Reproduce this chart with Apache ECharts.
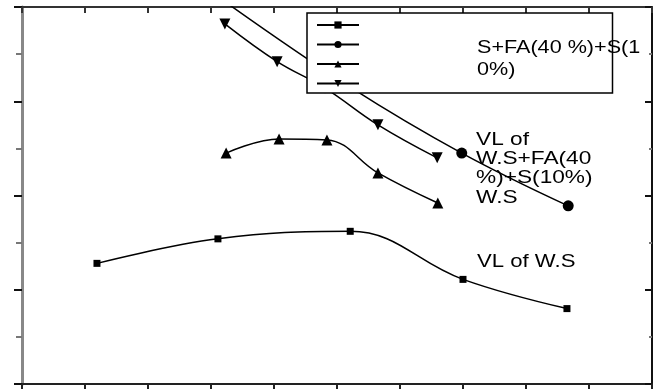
<!DOCTYPE html>
<html><head><meta charset="utf-8">
<script src="https://cdn.jsdelivr.net/npm/echarts@6/dist/echarts.min.js"></script>
<style>html,body{margin:0;padding:0;background:#fff}#c{width:658px;height:390px}</style>
</head><body><div id="c"></div>
<script>
// Data
const vlWsX = [1.19, 3.11, 5.21, 7.0, 8.65];
const vlWsY = [1.28, 1.54, 1.62, 1.11, 0.80];
const vlMixX = [3.13, 5.21, 6.98, 8.67];
const vlMixY = [4.10, 3.15, 2.45, 1.89];
const wsX = [3.24, 4.08, 4.84, 5.65, 6.60];
const wsY = [2.45, 2.60, 2.59, 2.24, 1.92];
const mixX = [3.22, 4.05, 4.81, 5.65, 6.59];
const mixY = [3.82, 3.42, 3.14, 2.75, 2.40];
const seriesNames = ['VL of W.S', 'VL of W.S+FA(40%)+S(10%)', 'W.S', 'S+FA(40%)+S(10%)'];
const annotTop = ['S+FA(40 %)+S(1', '0%)'];
const annotMid = ['VL of', 'W.S+FA(40', '%)+S(10%)', 'W.S'];
const annotBottom = ['VL of W.S'];
const xMin = 0, xMax = 10, xInterval = 1;
const yMin = 0, yMax = 4, yInterval = 1;

const pairs = (xs, ys) => xs.map((x, i) => [x, ys[i]]);
const chart = echarts.init(document.getElementById('c'), null, {renderer: 'canvas'});
const FONT = '"Liberation Sans", Arial, sans-serif';
const lineBase = (name, data, symbol, size, rot) => ({
  type: 'line', name, data, symbol, symbolSize: size, symbolRotate: rot || 0,
  smooth: 0.4, clip: true, xAxisIndex: 0, yAxisIndex: 0,
  lineStyle: {color: '#000', width: 1.5}, itemStyle: {color: '#000'}
});
const xAx = (pos, inside, len, color) => ({
  type: 'value', position: pos, min: xMin, max: xMax, interval: xInterval,
  axisLine: {show: true, onZero: false, lineStyle: {color, width: 2}},
  axisTick: {show: true, inside, length: len, lineStyle: {color, width: 2}},
  axisLabel: {show: false}, splitLine: {show: false}
});
const option = {
  animation: false,
  backgroundColor: '#fff',
  grid: {left: 22, right: 6, top: 7, bottom: 6, containLabel: false},
  xAxis: [xAx('bottom', false, 5, '#222'), xAx('top', true, 6, '#333')],
  yAxis: [
    {type: 'value', position: 'left', min: yMin, max: yMax, interval: yInterval,
     axisLine: {show: true, onZero: false, lineStyle: {color: '#888', width: 3}},
     axisTick: {show: true, inside: false, length: 8, lineStyle: {color: '#111', width: 2}},
     minorTick: {show: true, splitNumber: 2, length: 6, lineStyle: {color: '#777', width: 2}},
     axisLabel: {show: false}, splitLine: {show: false}, minorSplitLine: {show: false}},
    {type: 'value', position: 'right', min: yMin, max: yMax, interval: yInterval,
     axisLine: {show: true, onZero: false, lineStyle: {color: '#111', width: 2}},
     axisTick: {show: true, inside: true, length: 7, lineStyle: {color: '#111', width: 2}},
     minorTick: {show: true, splitNumber: 2, length: 3, lineStyle: {color: '#777', width: 2}},
     axisLabel: {show: false}, splitLine: {show: false}, minorSplitLine: {show: false}}
  ],
  legend: {
    show: true, orient: 'vertical', left: 307, top: 13,
    padding: [7.5, 246, 5, 9], itemWidth: 42, itemHeight: 9, itemGap: 10.5,
    borderColor: '#000', borderWidth: 1.5, backgroundColor: '#fff',
    formatter: () => ' ', textStyle: {fontSize: 9, lineHeight: 9},
    data: seriesNames
  },
  series: [
    lineBase(seriesNames[0], pairs(vlWsX, vlWsY), 'rect', 7),
    lineBase(seriesNames[1], pairs(vlMixX, vlMixY), 'circle', 11),
    lineBase(seriesNames[2], pairs(wsX, wsY), 'triangle', 11),
    lineBase(seriesNames[3], pairs(mixX, mixY), 'triangle', 11, 180)
  ],
  graphic: [
    {type: 'text', x: 477, y: 37, scaleX: 1.2, z: 100,
     style: {text: annotTop.join('\n'), font: '18px ' + FONT, fill: '#000', lineHeight: 22, verticalAlign: 'top'}},
    {type: 'text', x: 476, y: 130, scaleX: 1.26, z: 100,
     style: {text: annotMid.join('\n'), font: '18px ' + FONT, fill: '#000', lineHeight: 19.3, verticalAlign: 'top'}},
    {type: 'text', x: 477, y: 253, scaleX: 1.23, z: 100,
     style: {text: annotBottom.join('\n'), font: '18px ' + FONT, fill: '#000', lineHeight: 19, verticalAlign: 'top'}}
  ]
};
chart.setOption(option);
</script>
</body></html>
